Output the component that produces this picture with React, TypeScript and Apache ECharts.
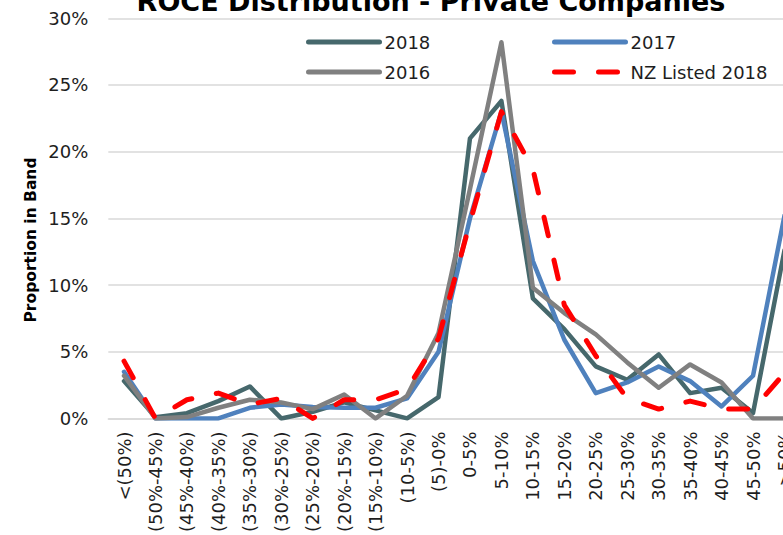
import React, { useEffect, useRef } from "react";
import * as echarts from "echarts";

const categories = [
  "<(50%)", "(50%-45%)", "(45%-40%)", "(40%-35%)", "(35%-30%)", "(30%-25%)",
  "(25%-20%)", "(20%-15%)", "(15%-10%)", "(10-5%)", "(5)-0%", "0-5%", "5-10%",
  "10-15%", "15-20%", "20-25%", "25-30%", "30-35%", "35-40%", "40-45%", "45-50%", ">50%",
];
const s2018 = [2.8, 0.1, 0.4, 1.3, 2.4, 0, 0.5, 1.2, 0.6, 0, 1.6, 21.0, 23.8, 9.0, 6.7, 3.9, 2.9, 4.8, 1.9, 2.3, 0.4, 12.6];
const s2017 = [3.5, 0, 0, 0, 0.8, 1.05, 0.85, 0.8, 0.8, 1.5, 5.0, 15.0, 23.0, 11.8, 5.9, 1.9, 2.7, 3.9, 2.8, 0.9, 3.2, 15.2];
const s2016 = [3.2, 0, 0.1, 0.8, 1.4, 1.2, 0.7, 1.8, 0, 1.7, 6.4, 17.2, 28.2, 9.8, 7.9, 6.3, 4.2, 2.3, 4.05, 2.7, 0, 0];
const nzListed2018 = [4.3, 0, 1.4, 1.9, 1.05, 1.5, 0, 1.4, 1.4, 2.2, 6.0, 14.7, 23.0, 18.7, 8.5, 4.7, 1.5, 0.7, 1.3, 0.7, 0.7, 3.4];
const yTicks = { min: 0, max: 30, interval: 5 };

const titleText = "ROCE Distribution - Private Companies";
const yName = "Proportion in Band";

const FONT = "'DejaVu Sans', sans-serif";
const TXT = "#1e1e1e";

export default function App() {
  const ref = useRef<HTMLDivElement>(null);
  useEffect(() => {
    if (!ref.current) return;
    const chart = echarts.init(ref.current, null, { renderer: "svg" });
    const legendBase = {
      orient: "horizontal",
      padding: 0,
      itemWidth: 71,
      itemHeight: 14,
      itemGap: 6,
      textStyle: { fontSize: 18, color: TXT, fontFamily: FONT },
      lineStyle: { width: 5, cap: "round" },
      itemStyle: { opacity: 0, color: "rgba(0,0,0,0)", borderWidth: 0 },
    };
    chart.setOption({
      animation: false,
      backgroundColor: "#ffffff",
      textStyle: { fontFamily: FONT },
      grid: { left: 108.3, right: 9.8, top: 48.3, bottom: 116, containLabel: false },
      legend: [
        { ...legendBase, data: ["2018"], left: 306, top: 63 },
        { ...legendBase, data: ["2017"], left: 552, top: 63 },
        { ...legendBase, data: ["2016"], left: 306, top: 93 },
        { ...legendBase, data: ["NZ Listed 2018"], left: 552, top: 93 },
      ],
      graphic: [
        {
          type: "text",
          x: 431,
          y: 31,
          style: {
            text: titleText,
            fontSize: 27,
            fontWeight: "bold",
            fontFamily: FONT,
            fill: "#000",
            align: "center",
            verticalAlign: "middle",
          },
        },
        {
          type: "text",
          x: 31,
          y: 270,
          rotation: Math.PI / 2,
          style: {
            text: yName,
            fontSize: 15.5,
            fontWeight: "bold",
            fontFamily: FONT,
            fill: "#000",
            align: "center",
            verticalAlign: "middle",
          },
        },
      ],
      xAxis: {
        type: "category",
        data: categories,
        boundaryGap: true,
        axisTick: { show: false },
        axisLine: { lineStyle: { color: "#D9D9D9", width: 1.5 } },
        axisLabel: {
          interval: 0,
          rotate: 90,
          fontSize: 18,
          color: TXT,
          fontFamily: FONT,
          margin: 13,
        },
      },
      yAxis: {
        type: "value",
        min: yTicks.min,
        max: yTicks.max,
        interval: yTicks.interval,
        axisLine: { show: false },
        axisTick: { show: false },
        splitLine: { lineStyle: { color: "#D9D9D9", width: 1.5 } },
        axisLabel: {
          formatter: "{value}%",
          fontSize: 18,
          color: TXT,
          fontFamily: FONT,
          margin: 20,
        },
      },
      series: [
        {
          name: "2018",
          type: "line",
          data: s2018,
          symbol: "none",
          color: "#46686C",
          lineStyle: { width: 4.5, color: "#46686C", join: "round", cap: "round" },
        },
        {
          name: "2017",
          type: "line",
          data: s2017,
          symbol: "none",
          color: "#4F81BD",
          lineStyle: { width: 4.5, color: "#4F81BD", join: "round", cap: "round" },
        },
        {
          name: "2016",
          type: "line",
          data: s2016,
          symbol: "none",
          color: "#808080",
          lineStyle: { width: 4.5, color: "#808080", join: "round", cap: "round" },
        },
        {
          name: "NZ Listed 2018",
          type: "line",
          data: nzListed2018,
          symbol: "none",
          color: "#FF0000",
          lineStyle: { width: 5, color: "#FF0000", type: [19, 25], join: "round", cap: "round" },
        },
      ],
    });
    return () => chart.dispose();
  }, []);
  return (
    <div style={{ position: "fixed", left: 0, top: 0, width: 783, height: 535, overflow: "hidden", background: "#fff" }}>
      <div ref={ref} style={{ position: "absolute", left: 0, top: -30, width: 810, height: 565 }} />
    </div>
  );
}
